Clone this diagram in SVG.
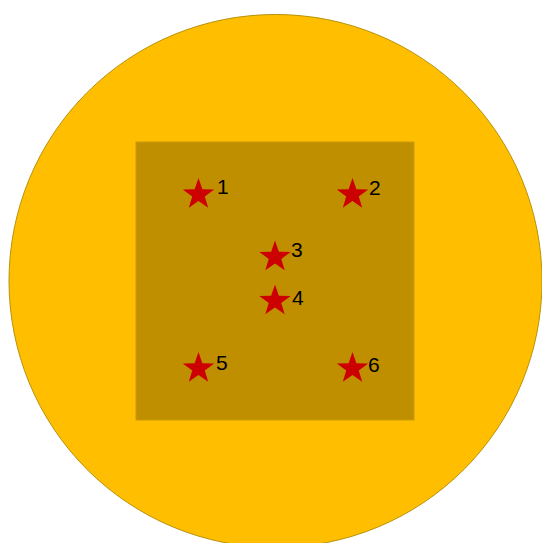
<svg xmlns="http://www.w3.org/2000/svg" width="542" height="543" viewBox="0 0 542 543">
<style>
.star{fill:#cc0000}
.lbl{font-family:"Liberation Sans",Arial,sans-serif;font-size:21px;fill:#000}
</style>
<defs>
<polygon id="s" points="0,-16.5 3.88,-5.34 15.69,-5.1 6.28,2.04 9.7,13.35 0,6.6 -9.7,13.35 -6.28,2.04 -15.69,-5.1 -3.88,-5.34"/>
</defs>
<circle cx="275.5" cy="281" r="266.5" fill="#ffbf00" stroke="#b8920a" stroke-width="1"/>
<rect x="136" y="142" width="278" height="278" fill="#c08f00" stroke="#cc9a08" stroke-width="1"/>
<g id="n1"><use href="#s" class="star" x="198.5" y="194.5"/><text class="lbl" x="217" y="194">1</text></g>
<g id="n2"><use href="#s" class="star" x="352.5" y="194.5"/><text class="lbl" x="369" y="195">2</text></g>
<g id="n3"><use href="#s" class="star" x="275" y="257"/><text class="lbl" x="291" y="257">3</text></g>
<g id="n4"><use href="#s" class="star" x="275" y="301"/><text class="lbl" x="292" y="305">4</text></g>
<g id="n5"><use href="#s" class="star" x="198.5" y="368.5"/><text class="lbl" x="216" y="370">5</text></g>
<g id="n6"><use href="#s" class="star" x="352.5" y="368.5"/><text class="lbl" x="368" y="372">6</text></g>
<g id="connectors"/>
</svg>
